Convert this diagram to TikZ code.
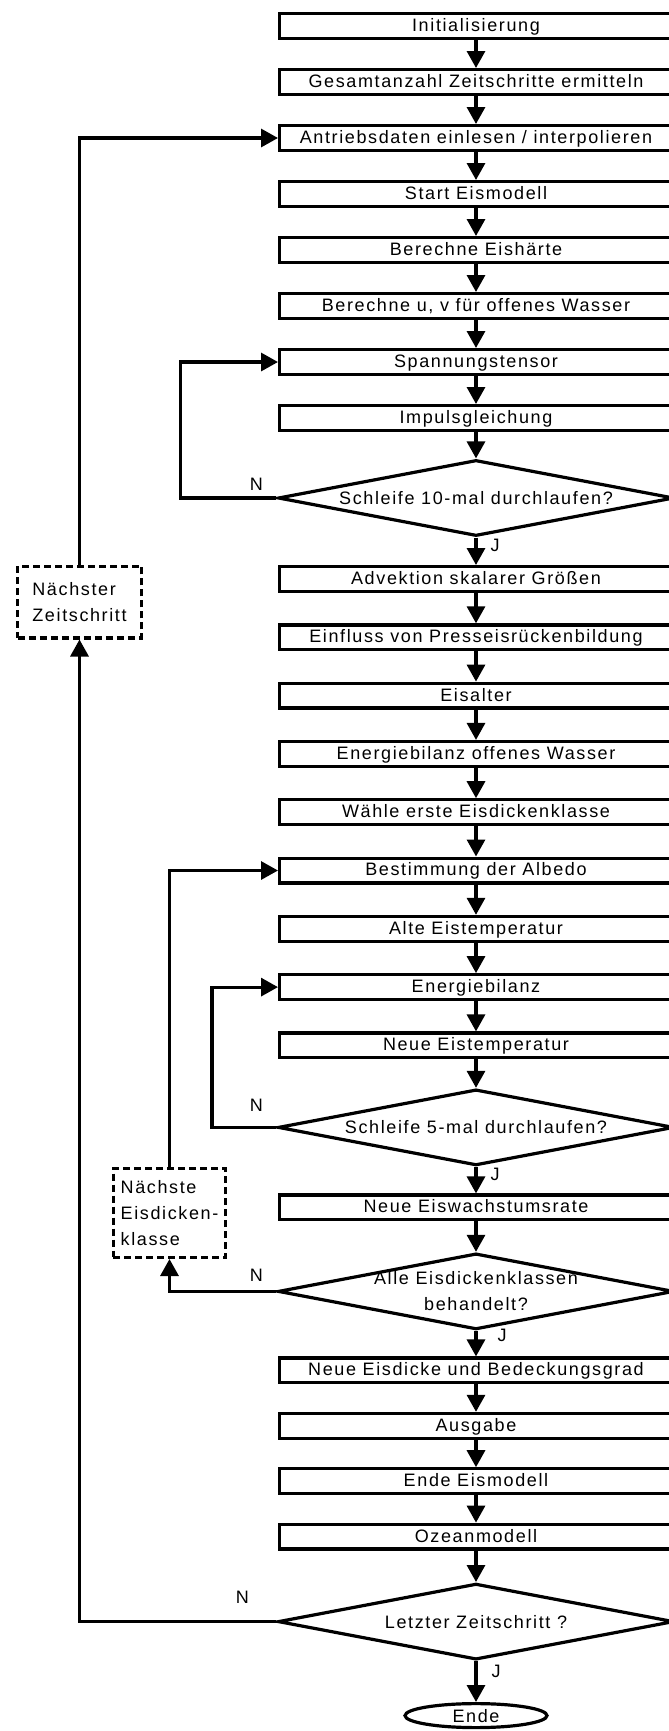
\documentclass[tikz,border=0pt]{standalone}
\usepackage{fontspec}
\setmainfont{Liberation Sans}[LetterSpace=9]
\usetikzlibrary{arrows.meta, positioning, shapes.geometric}

\begin{document}
\begin{tikzpicture}[
  node distance=14pt,
  font=\fontsize{9}{13}\selectfont,
  line width=1.6pt,
  box/.style={draw, rectangle, minimum width=196.4pt, minimum height=12.4pt,
              inner sep=0.5pt, text height=6.4pt, text depth=1pt},
  dec/.style={draw, diamond, minimum width=198pt, minimum height=38pt, inner sep=0pt},
  term/.style={draw, ellipse, minimum width=71pt, minimum height=12pt, inner sep=0pt},
  side/.style={draw, dash pattern=on 3.5pt off 2pt, align=left, inner sep=0pt},
  lbl/.style={inner sep=0pt, align=center},
  arr/.style={-{Triangle[length=8.5pt, width=9pt]}}
]
  \useasboundingbox (0,0) rectangle (334.5pt,-865.5pt);

  % main chain
  \node[box] (init) at (238pt,-13pt) {Initialisierung};
  \node[box, below=of init] (total) {Gesamtanzahl Zeitschritte ermitteln};
  \node[box, below=of total] (forcing) {Antriebsdaten einlesen / interpolieren};
  \node[box, below=of forcing] (icestart) {Start Eismodell};
  \node[box, below=of icestart] (hardness) {Berechne Eishärte};
  \node[box, below=of hardness] (uvopen) {Berechne u, v für offenes Wasser};
  \node[box, below=of uvopen] (stress) {Spannungstensor};
  \node[box, below=of stress] (momentum) {Impulsgleichung};
  \node[dec, below=13.2pt of momentum] (loopten) {};
  \node[lbl] (loopten-t) at (loopten) {Schleife 10-mal durchlaufen?};

  \node[box, below=13.7pt of loopten] (advect) {Advektion skalarer Größen};
  \node[box, below=15.15pt of advect] (ridging) {Einfluss von Presseisrückenbildung};
  \node[box, below=15.15pt of ridging] (iceage) {Eisalter};
  \node[box, below=15.15pt of iceage] (ebopen) {Energiebilanz offenes Wasser};
  \node[box, below=15.15pt of ebopen] (firstcls) {Wähle erste Eisdickenklasse};
  \node[box, below=15.15pt of firstcls] (albedo) {Bestimmung der Albedo};
  \node[box, below=15.15pt of albedo] (oldtemp) {Alte Eistemperatur};
  \node[box, below=15.15pt of oldtemp] (ebal) {Energiebilanz};
  \node[box, below=15.15pt of ebal] (newtemp) {Neue Eistemperatur};
  \node[dec, below=14.2pt of newtemp] (loopfive) {};
  \node[lbl] (loopfive-t) at (loopfive) {Schleife 5-mal durchlaufen?};
  \node[box, below=13.2pt of loopfive] (growth) {Neue Eiswachstumsrate};
  \node[dec, below=15.2pt of growth] (allcls) {};
  \node[lbl] (allcls-t) at (allcls) {Alle Eisdickenklassen\\behandelt?};

  \node[box, below=12.7pt of allcls] (thick) {Neue Eisdicke und Bedeckungsgrad};
  \node[box, below=13.7pt of thick] (output) {Ausgabe};
  \node[box, below=13.7pt of output] (iceend) {Ende Eismodell};
  \node[box, below=13.7pt of iceend] (ocean) {Ozeanmodell};
  \node[dec, below=15.7pt of ocean] (lastts) {};
  \node[lbl] (lastts-t) at (lastts) {Letzter Zeitschritt ?};
  \node[term, below=20.4pt of lastts] (finish) {Ende};

  % side boxes
  \node[side, minimum width=61.75pt, minimum height=35.9pt]
    (nextstep) at (39.75pt,-301pt) {Nächster\\Zeitschritt};
  \node[side, minimum width=56.3pt, minimum height=44.4pt]
    (nextcls) at (84.75pt,-606.5pt) {Nächste\\Eisdicken-\\klasse};
  \coordinate (tenx) at (90.25pt,0);
  \coordinate (fivex) at (106pt,0);

  % yes/no labels
  \node[lbl] (n-ten) at ([xshift=-10pt,yshift=7pt]loopten.west) {N};
  \node[lbl] (n-five) at ([xshift=-10pt,yshift=11pt]loopfive.west) {N};
  \node[lbl] (n-cls) at ([xshift=-10pt,yshift=8pt]allcls.west) {N};
  \node[lbl] (n-last) at ([xshift=-17pt,yshift=12pt]lastts.west) {N};
  \node[lbl] (j-ten) at ([xshift=9.5pt,yshift=-4pt]loopten.south) {J};
  \node[lbl] (j-five) at ([xshift=9.5pt,yshift=-3.5pt]loopfive.south) {J};
  \node[lbl] (j-cls) at ([xshift=13pt,yshift=-2pt]allcls.south) {J};
  \node[lbl] (j-last) at ([xshift=10pt,yshift=-5pt]lastts.south) {J};

  \draw[arr] (init) -- (total);
  \draw[arr] (total) -- (forcing);
  \draw[arr] (forcing) -- (icestart);
  \draw[arr] (icestart) -- (hardness);
  \draw[arr] (hardness) -- (uvopen);
  \draw[arr] (uvopen) -- (stress);
  \draw[arr] (stress) -- (momentum);
  \draw[arr] (momentum) -- (loopten);
  \draw[arr] (loopten) -- (advect);
  \draw[arr] (advect) -- (ridging);
  \draw[arr] (ridging) -- (iceage);
  \draw[arr] (iceage) -- (ebopen);
  \draw[arr] (ebopen) -- (firstcls);
  \draw[arr] (firstcls) -- (albedo);
  \draw[arr] (albedo) -- (oldtemp);
  \draw[arr] (oldtemp) -- (ebal);
  \draw[arr] (ebal) -- (newtemp);
  \draw[arr] (newtemp) -- (loopfive);
  \draw[arr] (loopfive) -- (growth);
  \draw[arr] (growth) -- (allcls);
  \draw[arr] (allcls) -- (thick);
  \draw[arr] (thick) -- (output);
  \draw[arr] (output) -- (iceend);
  \draw[arr] (iceend) -- (ocean);
  \draw[arr] (ocean) -- (lastts);
  \draw[arr] (lastts) -- (finish);

  % loops back
  \draw[arr] (loopten.west) -- (loopten.west -| tenx) |- (stress.west);
  \draw[arr] (loopfive.west) -- (loopfive.west -| fivex) |- (ebal.west);
  \draw[arr] (allcls.west) -| (nextcls.south);
  \draw[arr] (nextcls.north) |- (albedo.west);
  \draw[arr] (lastts.west) -| (nextstep.south);
  \draw[arr] (nextstep.north) |- (forcing.west);
\end{tikzpicture}
\end{document}
